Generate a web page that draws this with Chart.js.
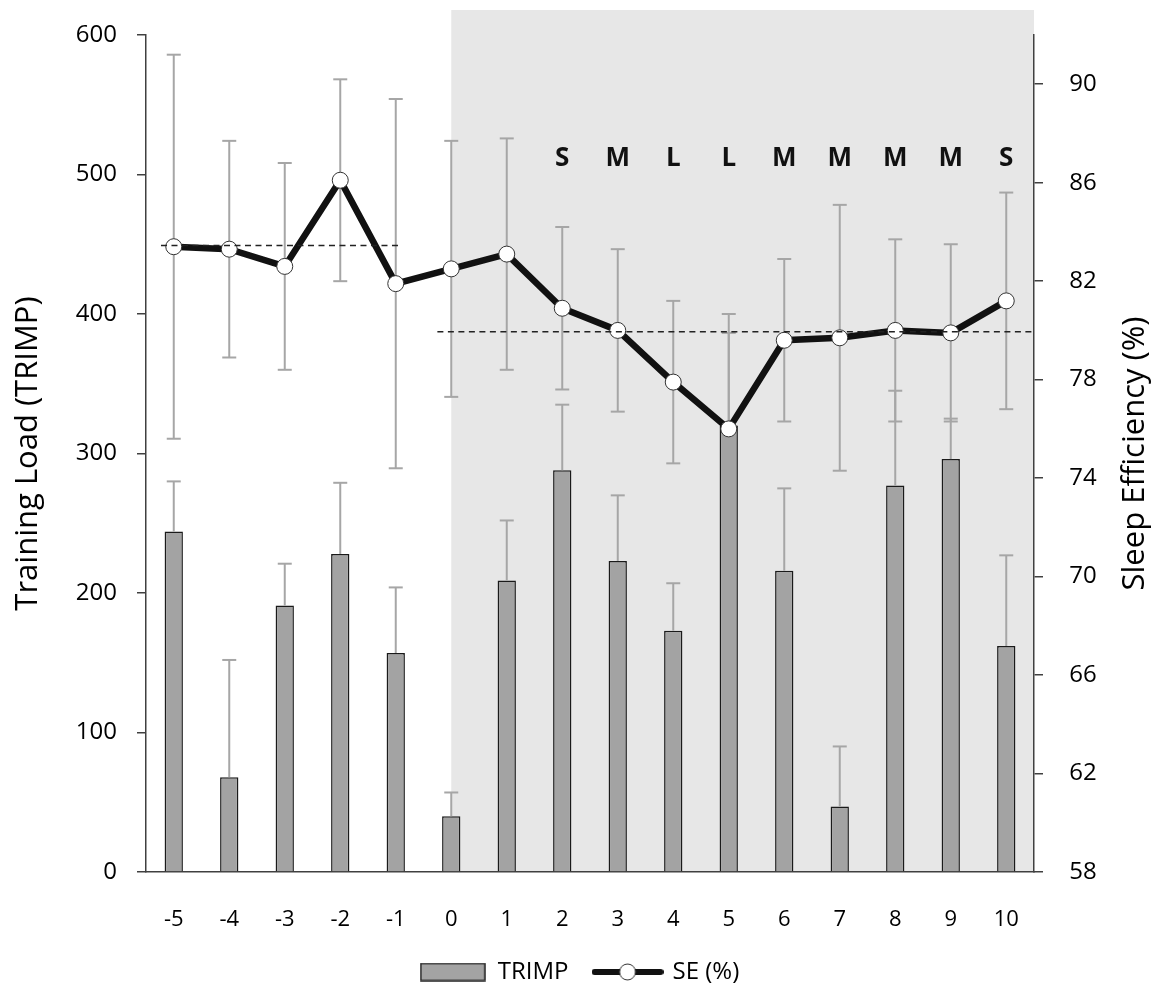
<!DOCTYPE html>
<html>
<head>
<meta charset="utf-8">
<script src="https://cdn.jsdelivr.net/npm/chart.js@4.4.1/dist/chart.umd.min.js"></script>
<style>
  html, body { margin: 0; padding: 0; background: #fff; }
</style>
</head>
<body>
<canvas id="chart" width="1159" height="994"></canvas>
<script>
// days relative to competition start
const days = ['-5', '-4', '-3', '-2', '-1', '0', '1', '2', '3', '4', '5', '6', '7', '8', '9', '10'];
const trimp = [244, 68, 191, 228, 157, 40, 209, 288, 223, 173, 320, 216, 47, 277, 296, 162];
const trimpSD = [36, 84, 30, 51, 47, 17, 43, 47, 47, 34, 80, 59, 43, 68, 29, 65];
const se = [83.4, 83.3, 82.6, 86.1, 81.9, 82.5, 83.1, 80.9, 80.0, 77.9, 76.0, 79.6, 79.7, 80.0, 79.9, 81.2];
const seSD = [7.8, 4.4, 4.2, 4.1, 7.5, 5.2, 4.7, 3.3, 3.3, 3.3, 3.9, 3.3, 5.4, 3.7, 3.6, 4.4];
const loadClass = ['', '', '', '', '', '', '', 'S', 'M', 'L', 'L', 'M', 'M', 'M', 'M', 'S'];
const seMeans = [83.45, 79.95]; // pre-competition, competition
const leftTicks = [0, 100, 200, 300, 400, 500, 600];
const rightTicks = [58, 62, 66, 70, 74, 78, 82, 86, 90];

const ERR_COLOR = '#a6a6a6';
const AXIS_COLOR = '#404040';

Chart.defaults.font.family = "'Open Sans', sans-serif";
Chart.defaults.color = '#000';

function capLine(ctx, x, y, half) {
  ctx.beginPath();
  ctx.moveTo(x - half, y);
  ctx.lineTo(x + half, y);
  ctx.stroke();
}

function vLine(ctx, x, y0, y1) {
  ctx.beginPath();
  ctx.moveTo(x, y0);
  ctx.lineTo(x, y1);
  ctx.stroke();
}

// legend symbols
const boxImg = document.createElement('canvas');
boxImg.width = 66; boxImg.height = 19;
(() => {
  const c = boxImg.getContext('2d');
  c.fillStyle = '#a3a3a3';
  c.fillRect(1, 1, 64, 17);
  c.strokeStyle = '#222';
  c.lineWidth = 1.5;
  c.strokeRect(1, 1, 64, 17);
})();

const lineImg = document.createElement('canvas');
lineImg.width = 72; lineImg.height = 22;
(() => {
  const c = lineImg.getContext('2d');
  c.strokeStyle = '#111';
  c.lineWidth = 6;
  c.lineCap = 'round';
  c.beginPath();
  c.moveTo(3, 11);
  c.lineTo(69, 11);
  c.stroke();
  c.beginPath();
  c.arc(36, 11, 8, 0, Math.PI * 2);
  c.fillStyle = '#fff';
  c.fill();
  c.strokeStyle = '#333';
  c.lineWidth = 1;
  c.stroke();
})();

const overlay = {
  id: 'overlay',
  beforeDraw(chart) {
    // shaded competition period from day 0
    const {ctx, chartArea: a, scales: {x}} = chart;
    const x0 = x.getPixelForValue(days.indexOf('0'));
    ctx.save();
    ctx.fillStyle = '#e7e7e7';
    ctx.fillRect(x0, a.top - 25, a.right - x0, a.bottom - a.top + 25);
    ctx.restore();
  },
  beforeDatasetsDraw(chart) {
    const {ctx, scales: {x, y1}} = chart;
    ctx.save();
    ctx.strokeStyle = ERR_COLOR;
    ctx.lineWidth = 2;
    se.forEach((v, i) => {
      const px = x.getPixelForValue(i);
      const top = y1.getPixelForValue(v + seSD[i]);
      const bot = y1.getPixelForValue(v - seSD[i]);
      vLine(ctx, px, top, bot);
      capLine(ctx, px, top, 7);
      capLine(ctx, px, bot, 7);
    });
    ctx.restore();
  },
  afterDatasetDraw(chart, args) {
    if (args.index !== 0) return;
    const {ctx, scales: {x, y}} = chart;
    ctx.save();
    ctx.strokeStyle = ERR_COLOR;
    ctx.lineWidth = 2;
    trimp.forEach((v, i) => {
      const px = x.getPixelForValue(i);
      const top = y.getPixelForValue(v + trimpSD[i]);
      vLine(ctx, px, y.getPixelForValue(v), top);
      capLine(ctx, px, top, 7);
    });
    ctx.restore();
  },
  afterDatasetsDraw(chart) {
    const {ctx, chartArea: a, scales: {x, y1}} = chart;
    const cw = x.getPixelForValue(1) - x.getPixelForValue(0);
    ctx.save();
    // mean SE lines
    ctx.strokeStyle = '#222';
    ctx.lineWidth = 1.5;
    ctx.setLineDash([6, 4.5]);
    let yy = y1.getPixelForValue(seMeans[0]);
    ctx.beginPath();
    ctx.moveTo(x.getPixelForValue(0) - 0.23 * cw, yy);
    ctx.lineTo(x.getPixelForValue(4) + 0.09 * cw, yy);
    ctx.stroke();
    yy = y1.getPixelForValue(seMeans[1]);
    ctx.beginPath();
    ctx.moveTo(x.getPixelForValue(5) - 0.25 * cw, yy);
    ctx.lineTo(a.right, yy);
    ctx.stroke();
    ctx.setLineDash([]);
    // load classification
    ctx.fillStyle = '#111';
    ctx.font = "bold 26px 'Open Sans', sans-serif";
    ctx.textAlign = 'center';
    ctx.textBaseline = 'middle';
    loadClass.forEach((t, i) => {
      if (t) ctx.fillText(t, x.getPixelForValue(i), a.top + 124);
    });
    ctx.restore();
  },
  afterDraw(chart) {
    // right axis title, reading bottom to top
    const {ctx, chartArea: a} = chart;
    ctx.save();
    ctx.translate(chart.width - 24, (a.top + a.bottom) / 2);
    ctx.rotate(-Math.PI / 2);
    ctx.fillStyle = '#000';
    ctx.font = "31px 'Open Sans', sans-serif";
    ctx.textAlign = 'center';
    ctx.textBaseline = 'middle';
    ctx.fillText('Sleep Efficiency (%)', 0, 0);
    ctx.restore();
  }
};

new Chart(document.getElementById('chart'), {
  type: 'bar',
  data: {
    labels: days,
    datasets: [
      {
        type: 'bar',
        label: 'TRIMP',
        data: trimp,
        yAxisID: 'y',
        order: 1,
        backgroundColor: '#a3a3a3',
        borderColor: '#1a1a1a',
        borderWidth: 1.5,
        barPercentage: 0.33,
        categoryPercentage: 1
      },
      {
        type: 'line',
        label: 'SE (%)',
        data: se,
        yAxisID: 'y1',
        order: 0,
        borderColor: '#111',
        borderWidth: 6.5,
        pointRadius: 8,
        pointBackgroundColor: '#fff',
        pointBorderColor: '#333',
        pointBorderWidth: 1,
        tension: 0
      }
    ]
  },
  options: {
    responsive: false,
    devicePixelRatio: 1,
    animation: false,
    layout: { padding: { top: 35, left: 0, right: 0, bottom: 0 } },
    plugins: {
      tooltip: { enabled: false },
      legend: {
        position: 'bottom',
        labels: {
          usePointStyle: true,
          pointStyleWidth: 66,
          padding: 26,
          color: '#000',
          font: { size: 24 },
          generateLabels: () => [
            { text: 'TRIMP', pointStyle: boxImg, fillStyle: 'transparent', strokeStyle: 'transparent', lineWidth: 0, hidden: false, datasetIndex: 0 },
            { text: 'SE (%)', pointStyle: lineImg, fillStyle: 'transparent', strokeStyle: 'transparent', lineWidth: 0, hidden: false, datasetIndex: 1 }
          ]
        }
      }
    },
    scales: {
      x: {
        grid: { display: false },
        border: { color: AXIS_COLOR, width: 1.5 },
        ticks: { color: '#000', font: { size: 22 }, padding: 27 },
        afterFit: s => { s.height = 62; }
      },
      y: {
        position: 'left',
        min: 0,
        max: 600,
        afterBuildTicks: s => { s.ticks = leftTicks.map(v => ({ value: v })); },
        afterFit: s => { s.width = 146; },
        grid: { drawOnChartArea: false, tickLength: 9, color: AXIS_COLOR, lineWidth: 1.5 },
        border: { color: AXIS_COLOR, width: 1.5 },
        ticks: { color: '#000', font: { size: 24 }, padding: 20 },
        title: { display: true, text: 'Training Load (TRIMP)', color: '#000', font: { size: 31 }, padding: { top: 10 } }
      },
      y1: {
        position: 'right',
        min: 58,
        max: 92,
        afterBuildTicks: s => { s.ticks = rightTicks.map(v => ({ value: v })); },
        afterFit: s => { s.width = 125; },
        grid: { drawOnChartArea: false, tickLength: 9, color: AXIS_COLOR, lineWidth: 1.5 },
        border: { color: AXIS_COLOR, width: 1.5 },
        ticks: { color: '#000', font: { size: 24 }, padding: 20, callback: v => ' ' + v }
      }
    }
  },
  plugins: [overlay]
});
</script>
</body>
</html>
